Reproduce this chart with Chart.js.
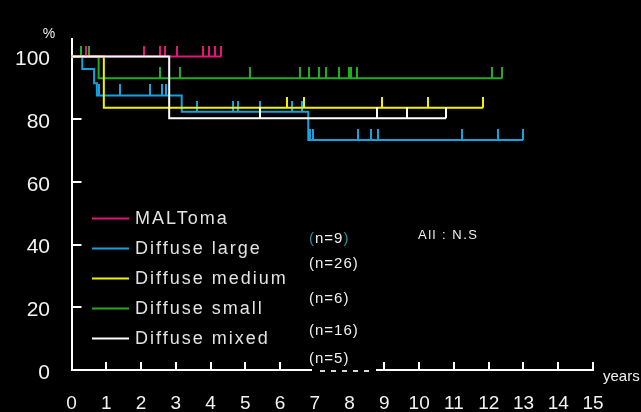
<!DOCTYPE html>
<html>
<head>
<meta charset="utf-8">
<script src="https://cdn.jsdelivr.net/npm/chart.js@4/dist/chart.umd.min.js"></script>
<style>
  html, body { margin: 0; padding: 0; background: #000; }
  canvas { display: block; }
</style>
</head>
<body>
<canvas id="km" width="641" height="412"></canvas>
<script>
// Groups, sizes and line colours
const categories = ['MALToma', 'Diffuse large', 'Diffuse medium', 'Diffuse small', 'Diffuse mixed'];
const groupSizes = [9, 26, 6, 16, 5];
const seriesColors = ['#e4147c', '#16a2dc', '#f2f200', '#1fae1f', '#ffffff'];

// Survival steps (years, %): each level holds from its time until the next step
const maltomaTimes = [0, 4.31];
const maltomaSurvival = [100, 100];
const maltomaCensored = [0.42, 2.08, 2.54, 2.68, 3.03, 3.79, 3.96, 4.14, 4.31];

const largeTimes = [0, 0.31, 0.65, 0.73, 3.17, 6.81, 12.99];
const largeSurvival = [100, 96.0, 91.5, 87.6, 82.4, 73.4, 73.4];
const largeCensored = [0.78, 1.39, 2.26, 2.60, 2.72, 3.62, 4.65, 4.80, 5.41, 6.35, 6.64,
                       6.86, 6.95, 8.23, 8.61, 8.82, 11.22, 12.26, 12.99];

const mediumTimes = [0, 0.93, 11.84];
const mediumSurvival = [100, 83.7, 83.7];
const mediumCensored = [6.19, 6.70, 8.93, 10.24, 11.84];

const smallTimes = [0, 0.78, 12.39];
const smallSurvival = [100, 93.1, 93.1];
const smallCensored = [0.26, 0.50, 2.54, 3.12, 5.13, 6.57, 6.84, 7.13, 7.33, 7.70, 7.99,
                       8.03, 8.20, 12.09, 12.39];

const mixedTimes = [0, 2.81, 10.77];
const mixedSurvival = [100, 80.3, 80.3];
const mixedCensored = [5.42, 8.79, 9.65, 10.77];

// Axis ticks
const yearTicks = [0, 1, 2, 3, 4, 5, 6, 7, 8, 9, 10, 11, 12, 13, 14, 15];
const percentTicks = [0, 20, 40, 60, 80, 100];

const groups = [
  { times: maltomaTimes, survival: maltomaSurvival, censored: maltomaCensored, order: 1 },
  { times: largeTimes, survival: largeSurvival, censored: largeCensored, order: 4 },
  { times: mediumTimes, survival: mediumSurvival, censored: mediumCensored, order: 2 },
  { times: smallTimes, survival: smallSurvival, censored: smallCensored, order: 3 },
  { times: mixedTimes, survival: mixedSurvival, censored: mixedCensored, order: 0 }
];

// Survival level in effect at time t
function levelAt(times, survival, t) {
  let level = survival[0];
  for (let k = 0; k < times.length; k++) {
    if (times[k] <= t + 1e-9) level = survival[k];
  }
  return level;
}

// Censor mark: a short upright tick that rises from the curve
function censorMark(color) {
  const c = document.createElement('canvas');
  c.width = 2;
  c.height = 22;
  const g = c.getContext('2d');
  g.fillStyle = color;
  g.fillRect(0, 0, 2, 11);
  return c;
}

const datasets = [];
groups.forEach((grp, i) => {
  datasets.push({
    label: categories[i],
    data: grp.times.map((t, k) => ({ x: t, y: grp.survival[k] })),
    showLine: true,
    stepped: 'before',
    borderColor: seriesColors[i],
    borderWidth: 2,
    pointRadius: 0,
    fill: false,
    order: grp.order
  });
  datasets.push({
    label: categories[i] + ' censored',
    data: grp.censored.map(t => ({ x: t, y: levelAt(grp.times, grp.survival, t) })),
    showLine: false,
    pointStyle: censorMark(seriesColors[i]),
    pointRadius: 3,
    order: grp.order
  });
});

const LEGEND_FONT = '18px "Liberation Sans", Arial, sans-serif';
const NOTE_FONT = '15px "Liberation Sans", Arial, sans-serif';

const decorations = {
  id: 'decorations',
  beforeDraw(chart) {
    const ctx = chart.ctx;
    ctx.save();
    ctx.fillStyle = '#000';
    ctx.fillRect(0, 0, chart.width, chart.height);
    ctx.restore();
  },
  beforeDatasetsDraw(chart) {
    const { ctx, chartArea, scales: { x, y } } = chart;
    ctx.save();
    ctx.strokeStyle = '#ffffff';
    ctx.lineWidth = 2;
    ctx.beginPath();
    // tick marks pointing into the plot
    percentTicks.forEach(v => {
      if (v === 0) return;
      const py = Math.round(y.getPixelForValue(v));
      ctx.moveTo(chartArea.left, py);
      ctx.lineTo(chartArea.left + 10, py);
    });
    yearTicks.forEach(v => {
      if (v === 0 || v === 7 || v === 8) return;
      const px = Math.round(x.getPixelForValue(v));
      ctx.moveTo(px, chartArea.bottom);
      ctx.lineTo(px, chartArea.bottom - 8);
    });
    ctx.stroke();
    ctx.restore();
  },
  afterDraw(chart) {
    const { ctx, chartArea } = chart;
    ctx.save();

    // broken stretch of the time axis beneath the last group note
    ctx.fillStyle = '#000';
    ctx.fillRect(312, chartArea.bottom - 2, 64, 5);
    ctx.strokeStyle = '#d8d8d8';
    ctx.lineWidth = 2;
    ctx.setLineDash([5, 6]);
    ctx.beginPath();
    ctx.moveTo(320, chartArea.bottom + 1);
    ctx.lineTo(372, chartArea.bottom + 1);
    ctx.stroke();
    ctx.setLineDash([]);

    // legend
    ctx.font = LEGEND_FONT;
    ctx.textBaseline = 'middle';
    ctx.textAlign = 'left';
    ctx.letterSpacing = '2px';
    categories.forEach((name, i) => {
      const ly = 218.5 + i * 30;
      ctx.strokeStyle = seriesColors[i];
      ctx.lineWidth = 2;
      ctx.beginPath();
      ctx.moveTo(92, ly);
      ctx.lineTo(129, ly);
      ctx.stroke();
      ctx.fillStyle = '#e2e2e2';
      ctx.fillText(name, 135, ly + 1);
    });

    // group sizes
    ctx.font = NOTE_FONT;
    ctx.letterSpacing = '1px';
    const noteY = [239, 263.5, 298.5, 331, 359];
    groupSizes.forEach((n, i) => {
      const txt = '(n=' + n + ')';
      if (i === 0) {
        // first note has tinted brackets
        let cx = 309;
        ctx.fillStyle = '#2a8c9c';
        ctx.fillText('(', cx, noteY[i]);
        cx += ctx.measureText('(').width;
        ctx.fillStyle = '#f0f0f0';
        const mid = 'n=' + n;
        ctx.fillText(mid, cx, noteY[i]);
        cx += ctx.measureText(mid).width;
        ctx.fillStyle = '#2a8c9c';
        ctx.fillText(')', cx, noteY[i]);
      } else {
        ctx.fillStyle = '#f0f0f0';
        ctx.fillText(txt, 309, noteY[i]);
      }
    });

    ctx.font = '13px "Liberation Sans", Arial, sans-serif';
    ctx.letterSpacing = '1.5px';
    ctx.fillStyle = '#f0f0f0';
    ctx.fillText('All : N.S', 418, 235);

    // axis units
    ctx.letterSpacing = '0px';
    ctx.font = '14px "Liberation Sans", Arial, sans-serif';
    ctx.textAlign = 'center';
    ctx.textBaseline = 'alphabetic';
    ctx.fillText('%', 49, 38);
    ctx.textAlign = 'left';
    ctx.font = '15px "Liberation Sans", Arial, sans-serif';
    ctx.fillText('years', 603, 381);

    ctx.restore();
  }
};

new Chart(document.getElementById('km'), {
  type: 'scatter',
  data: { datasets },
  options: {
    responsive: false,
    devicePixelRatio: 1,
    animation: false,
    events: [],
    layout: { padding: { left: 0, top: 39, right: 48, bottom: 0 } },
    plugins: { legend: { display: false }, tooltip: { enabled: false } },
    scales: {
      x: {
        type: 'linear',
        min: 0,
        max: 15,
        afterFit(scale) { scale.height = 42; },
        afterBuildTicks(scale) { scale.ticks = yearTicks.map(v => ({ value: v })); },
        grid: { display: false, drawTicks: false },
        border: { display: true, color: '#ffffff', width: 2 },
        ticks: {
          color: '#f2f2f2',
          font: { family: '"Liberation Sans Narrow", "Arial Narrow", "Liberation Sans", sans-serif', size: 19 },
          padding: 22,
          maxRotation: 0,
          autoSkip: false
        }
      },
      y: {
        min: 0,
        max: 105.6,
        afterFit(scale) { scale.width = 71.5; },
        afterBuildTicks(scale) { scale.ticks = percentTicks.map(v => ({ value: v })); },
        grid: { display: false, drawTicks: false },
        border: { display: true, color: '#ffffff', width: 2 },
        ticks: {
          color: '#f2f2f2',
          font: { family: '"Liberation Sans", Arial, sans-serif', size: 21 },
          padding: 21.5,
          labelOffset: 3
        }
      }
    }
  },
  plugins: [decorations]
});
</script>
</body>
</html>
